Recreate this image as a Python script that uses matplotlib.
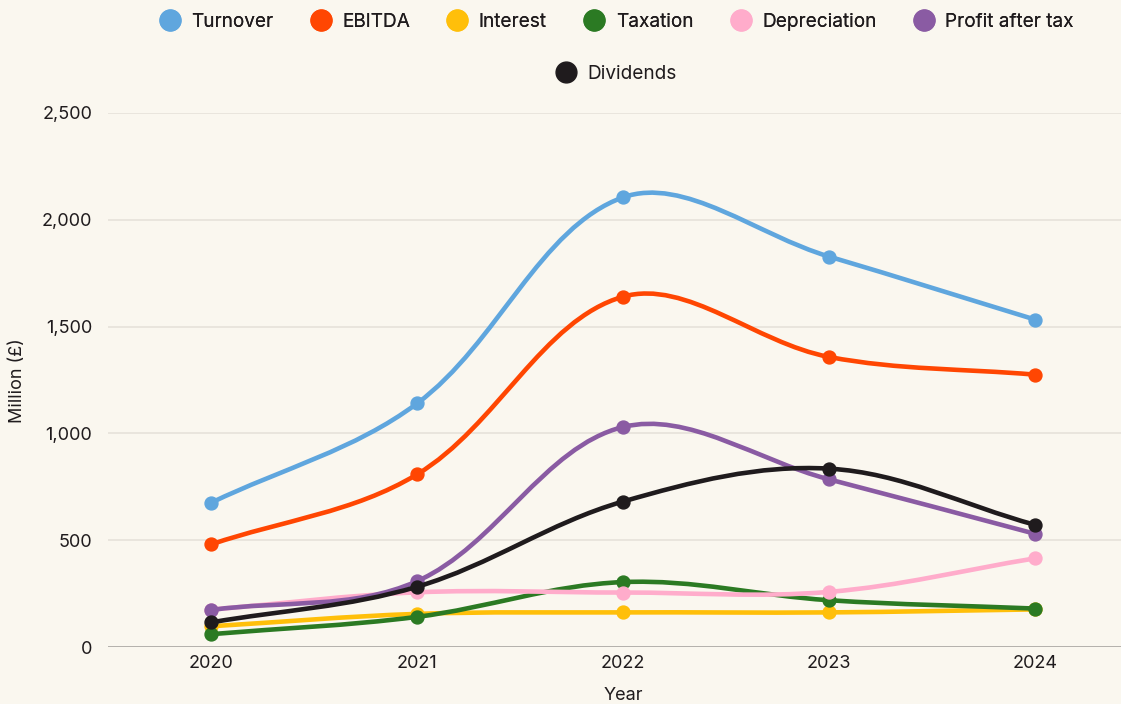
import matplotlib
matplotlib.use("Agg")
import matplotlib.pyplot as plt
import numpy as np
from matplotlib.path import Path
from matplotlib.patches import PathPatch
from matplotlib.lines import Line2D
from matplotlib.ticker import FuncFormatter

# Data (million £)
years = ["2020", "2021", "2022", "2023", "2024"]
turnover = [675, 1140, 2105, 1828, 1533]
ebitda = [480, 808, 1640, 1358, 1275]
interest = [97, 155, 162, 162, 176]
taxation = [60, 141, 304, 219, 180]
depreciation = [175, 256, 255, 258, 415]
profit_after_tax = [173, 308, 1030, 785, 530]
dividends = [115, 282, 681, 835, 572]

series_names = ["Turnover", "EBITDA", "Interest", "Taxation",
                "Depreciation", "Profit after tax", "Dividends"]
series_values = [turnover, ebitda, interest, taxation,
                 depreciation, profit_after_tax, dividends]
colors = ["#5fa6de", "#ff4602", "#ffbf0a", "#2b7a23",
          "#ffaccb", "#8a5ba3", "#1f1b1d"]

BG = "#faf7ef"
TXT = "#1f1b1d"

plt.rcParams["font.family"] = ["Inter", "DejaVu Sans"]

fig = plt.figure(figsize=(11.21, 7.04), dpi=100, facecolor=BG)
ax = fig.add_axes([108 / 1121, 1 - 647 / 704, (1138 - 108) / 1121, (647 - 113) / 704])
ax.set_facecolor(BG)

x = np.arange(len(years))
ax.set_xlim(-0.5, len(years) - 0.5)
ax.set_ylim(0, 2500)


def spline_path(xs, ys, tension=0.35):
    # chart.js style cubic spline, distances measured in pixels
    pts = np.column_stack([xs, ys]).astype(float)
    pix = ax.transData.transform(pts)
    n = len(pts)
    cp_prev = pts.copy()
    cp_next = pts.copy()
    for i in range(n):
        p0 = pts[max(i - 1, 0)]
        p2 = pts[min(i + 1, n - 1)]
        q0 = pix[max(i - 1, 0)]
        q1 = pix[i]
        q2 = pix[min(i + 1, n - 1)]
        d01 = np.hypot(*(q1 - q0))
        d12 = np.hypot(*(q2 - q1))
        tot = d01 + d12
        s01 = d01 / tot if tot else 0
        s12 = d12 / tot if tot else 0
        cp_prev[i] = pts[i] - tension * s01 * (p2 - p0)
        cp_next[i] = pts[i] + tension * s12 * (p2 - p0)
    verts = [pts[0]]
    codes = [Path.MOVETO]
    for i in range(n - 1):
        verts += [cp_next[i], cp_prev[i + 1], pts[i + 1]]
        codes += [Path.CURVE4] * 3
    return Path(verts, codes)


# grid
for v in [500, 1000, 1500, 2000, 2500]:
    ax.axhline(v, color="#e4e0d8", lw=1.1, zorder=0)
ax.axhline(0, color="#aeaba6", lw=1.3, zorder=0)

for i, (vals, col) in enumerate(zip(series_values, colors)):
    patch = PathPatch(spline_path(x, vals), facecolor="none", edgecolor=col,
                      lw=3.3, capstyle="round", joinstyle="round", zorder=2 + i)
    ax.add_patch(patch)
    ax.plot(x, vals, "o", color=col, markersize=9.3, zorder=2 + i)

for s in ax.spines.values():
    s.set_visible(False)

ax.set_xticks(x)
ax.set_xticklabels(years)
ax.set_yticks([0, 500, 1000, 1500, 2000, 2500])
ax.yaxis.set_major_formatter(FuncFormatter(lambda v, p: f"{int(v):,}"))
ax.tick_params(axis="both", length=0, labelsize=13, colors=TXT)
ax.tick_params(axis="y", pad=11.5)
ax.tick_params(axis="x", pad=5.5)

fig.text(623 / 1121, 1 - 695 / 704, "Year", ha="center", va="center",
         fontsize=13, color=TXT)
fig.text(18 / 1121, 1 - 381 / 704, "Million (£)", ha="center", va="center",
         rotation=90, fontsize=13, color=TXT)

# legend in two centred rows
handles = [Line2D([], [], ls="none", marker="o", markersize=15, color=c)
           for c in colors]
leg1 = fig.legend(handles[:6], series_names[:6], loc="center",
                  bbox_to_anchor=(617 / 1121, 1 - 22 / 704), ncol=6,
                  frameon=False, fontsize=13.7, handlelength=1.0,
                  handletextpad=0.62, columnspacing=2.0, labelcolor=TXT,
                  borderpad=0, borderaxespad=0)
fig.add_artist(leg1)
fig.legend(handles[6:], series_names[6:], loc="center",
           bbox_to_anchor=(617 / 1121, 1 - 74 / 704), ncol=1,
           frameon=False, fontsize=13.7, handlelength=1.0,
           handletextpad=0.62, labelcolor=TXT, borderpad=0, borderaxespad=0)

fig.savefig("out.png", dpi=100, facecolor=BG)
